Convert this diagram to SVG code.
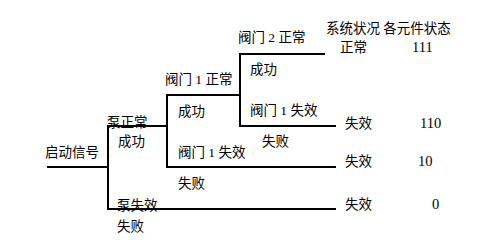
<svg xmlns="http://www.w3.org/2000/svg" width="490" height="248" viewBox="0 0 490 248">
<style>
text{font-family:"Liberation Serif","Noto Sans CJK SC",sans-serif;font-size:13.5px;fill:#000}
.n{font-size:14.5px}
.c{fill:none;stroke:#000;stroke-width:2;stroke-linecap:square}
</style>
<rect width="490" height="248" fill="#fff"/>
<g id="connectors">
<path class="c" d="M48 167H108M108 126V209M108 126H167M108 209H335M167 95V167M167 95H240M167 167H335M240 54V126M240 54H324M240 126H335"/>
</g>
<g id="start"><text x="45" y="157">启动信号</text></g>
<g id="pump-ok"><text x="107" y="127">泵正常</text><text x="118" y="146">成功</text></g>
<g id="pump-fail"><text x="117" y="210">泵失效</text><text x="117" y="231">失败</text></g>
<g id="valve1-ok"><text x="165" y="84">阀门 1 正常</text><text x="178" y="116">成功</text></g>
<g id="valve1-fail-a"><text x="178" y="157">阀门 1 失效</text><text x="178" y="188">失败</text></g>
<g id="valve2-ok"><text x="238" y="42">阀门 2 正常</text><text x="250" y="74">成功</text></g>
<g id="valve1-fail-b"><text x="250" y="115">阀门 1 失效</text><text x="262" y="146">失败</text></g>
<g id="header"><text x="326" y="33">系统状况 各元件状态</text></g>
<g id="out1"><text x="340" y="52">正常</text><text class="n" x="412" y="52">111</text></g>
<g id="out2"><text x="345" y="128">失效</text><text class="n" x="420" y="128">110</text></g>
<g id="out3"><text x="345" y="166">失效</text><text class="n" x="418" y="166">10</text></g>
<g id="out4"><text x="345" y="209">失效</text><text class="n" x="432" y="209">0</text></g>
</svg>
